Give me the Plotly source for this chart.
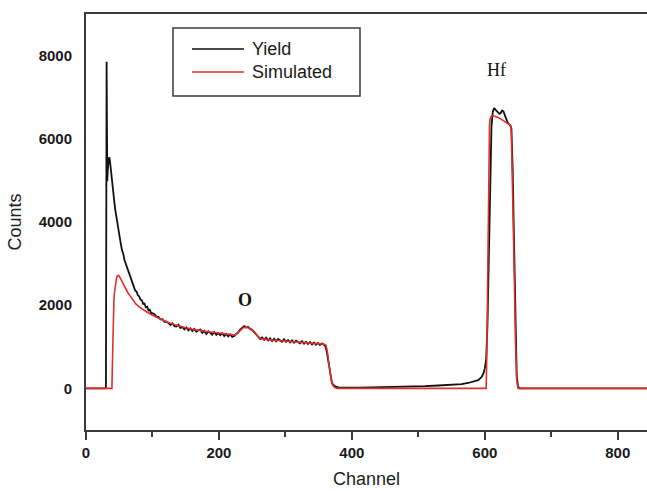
import plotly.graph_objects as go

# Measured spectrum (channel, counts)
yield_channel = [
    0, 30, 31, 32, 33, 34, 35, 36, 37, 38, 39, 40, 41, 42, 43, 44, 45, 46, 47, 48, 49,
    50, 52, 54, 56, 58, 60, 62, 64, 66, 68, 70, 72, 74, 76, 78, 80, 82, 84, 86, 88,
    90, 92, 94, 96, 98, 100, 103, 106, 109, 112, 115, 118, 121, 124, 127, 130, 133,
    136, 139, 142, 145, 148, 151, 154, 157, 160, 163, 166, 169, 172, 175, 178, 181,
    184, 187, 190, 193, 196, 199, 202, 205, 208, 211, 214, 217, 220, 223, 226, 229,
    232, 235, 238, 241, 244, 247, 250, 253, 256, 259, 262, 265, 268, 271, 274, 277,
    280, 283, 286, 289, 292, 295, 298, 301, 304, 307, 310, 313, 316, 319, 322, 325,
    328, 331, 334, 337, 340, 343, 346, 349, 352, 355, 358, 360, 362, 364, 366, 368,
    370, 373, 376, 380, 390, 410, 430, 450, 470, 490, 510, 530, 550, 565, 575, 583,
    590, 595, 598, 600, 602, 604, 606, 608, 610, 612, 614, 616, 618, 620, 622, 624,
    626, 628, 630, 632, 634, 636, 638, 640, 642, 644, 646, 648, 650, 652, 844,
]
yield_counts = [
    0, 0, 7850, 4980, 5300, 5480, 5560, 5470, 5300, 5150, 4980, 4830, 4700, 4540,
    4430, 4300, 4190, 4060, 3950, 3830, 3760, 3660, 3510, 3330, 3240, 3080, 2990,
    2870, 2810, 2690, 2630, 2500, 2460, 2350, 2330, 2240, 2210, 2130, 2120, 2030,
    2040, 1950, 1965, 1875, 1890, 1805, 1810, 1782, 1728, 1722, 1658, 1662, 1600,
    1608, 1570, 1522, 1566, 1498, 1487, 1532, 1452, 1480, 1418, 1465, 1394, 1441,
    1382, 1430, 1361, 1398, 1412, 1336, 1382, 1308, 1371, 1325, 1292, 1357, 1286,
    1332, 1277, 1328, 1260, 1311, 1252, 1299, 1238, 1262, 1305, 1352, 1418, 1448,
    1496, 1462, 1478, 1430, 1408, 1352, 1298, 1231, 1186, 1224, 1166, 1217, 1153,
    1203, 1140, 1196, 1131, 1188, 1145, 1123, 1182, 1117, 1163, 1106, 1156, 1099,
    1147, 1113, 1084, 1137, 1075, 1122, 1066, 1113, 1057, 1104, 1051, 1093, 1043,
    1082, 1050, 1020, 900, 700, 450, 250, 130, 70, 40, 25, 20, 20, 25, 30, 35, 45,
    55, 70, 85, 105, 130, 160, 200, 270, 360, 480, 700, 1500, 3000, 5000, 6300,
    6650, 6740, 6700, 6660, 6640, 6600, 6620, 6680, 6660, 6560, 6480, 6400, 6360,
    6330, 6250, 5200, 3500, 1500, 300, 50, 0, 0,
]

# Simulated spectrum (channel, counts)
sim_channel = [
    0, 39, 40, 41, 42, 43, 44, 45, 46, 47, 48, 49, 50, 52, 54, 56, 58, 60, 63, 66,
    70, 75, 80, 86, 92, 100, 110, 120, 130, 140, 150, 160, 170, 180, 190, 200, 210,
    220, 224, 228, 232, 236, 240, 244, 248, 252, 256, 260, 264, 270, 280, 290, 300,
    310, 320, 330, 340, 350, 358, 361, 363, 365, 367, 369, 371, 374, 378, 602, 603,
    604, 605, 606, 607, 608, 610, 612, 616, 620, 624, 628, 632, 636, 639, 640, 642,
    644, 646, 648, 650, 844,
]
sim_counts = [
    0, 0, 800, 1700, 2100, 2330, 2480, 2580, 2650, 2700, 2720, 2720, 2700, 2650,
    2580, 2510, 2440, 2380, 2300, 2230, 2130, 2030, 1960, 1890, 1830, 1760, 1680,
    1610, 1550, 1500, 1460, 1420, 1390, 1370, 1350, 1330, 1310, 1280, 1280, 1330,
    1400, 1450, 1470, 1460, 1430, 1380, 1300, 1230, 1190, 1175, 1160, 1150, 1140,
    1130, 1115, 1105, 1095, 1080, 1065, 1035, 900, 650, 400, 200, 80, 20, 0, 0, 800,
    2500, 4500, 5800, 6300, 6480, 6550, 6560, 6540, 6510, 6480, 6440, 6400, 6360,
    6320, 6100, 4800, 3000, 1200, 200, 0, 0,
]

x_ticks = [0, 200, 400, 600, 800]
y_ticks = [0, 2000, 4000, 6000, 8000]

# Page geometry (px)
W, H = 647, 491
L, R, T, B = 86, 0, 14, 61
PW, PH = W - L - R, H - T - B


def px_x(px):
    return (px - L) / PW


def px_y(py):
    return (H - B - py) / PH


AXIS = "#3a3a3a"
BLACK = "#111111"
RED = "#e0302c"
SANS = "Liberation Sans, Arial, sans-serif"
SERIF = "Liberation Serif, Times New Roman, serif"

fig = go.Figure()
fig.add_trace(go.Scatter(
    x=yield_channel, y=yield_counts, mode="lines", name="Yield",
    line=dict(color=BLACK, width=1.8), showlegend=False,
))
fig.add_trace(go.Scatter(
    x=sim_channel, y=sim_counts, mode="lines", name="Simulated",
    line=dict(color=RED, width=1.6), showlegend=False,
))

# Legend box
shapes = [
    dict(type="rect", xref="paper", yref="paper",
         x0=px_x(173), x1=px_x(360), y0=px_y(96), y1=px_y(28),
         line=dict(color=AXIS, width=1.5), fillcolor="white", layer="above"),
    dict(type="line", xref="paper", yref="paper",
         x0=px_x(192), x1=px_x(244), y0=px_y(49), y1=px_y(49),
         line=dict(color=BLACK, width=1.6), layer="above"),
    dict(type="line", xref="paper", yref="paper",
         x0=px_x(192), x1=px_x(244), y0=px_y(72), y1=px_y(72),
         line=dict(color=RED, width=1.6), layer="above"),
]
annotations = [
    dict(text="Yield", xref="paper", yref="paper", x=px_x(250), y=px_y(49),
         xanchor="left", yanchor="middle", showarrow=False,
         font=dict(family=SANS, size=18, color="#1a1a1a")),
    dict(text="Simulated", xref="paper", yref="paper", x=px_x(250), y=px_y(72),
         xanchor="left", yanchor="middle", showarrow=False,
         font=dict(family=SANS, size=18, color="#1a1a1a")),
    dict(text="<b>O</b>", x=239, y=2120, xref="x", yref="y", showarrow=False,
         font=dict(family=SERIF, size=18, color="#111111")),
    dict(text="Hf", x=618, y=7650, xref="x", yref="y", showarrow=False,
         font=dict(family=SERIF, size=18, color="#111111")),
]

fig.update_layout(
    width=W, height=H,
    margin=dict(l=L, r=R, t=T, b=B, pad=0),
    paper_bgcolor="white", plot_bgcolor="white",
    shapes=shapes, annotations=annotations,
    showlegend=False,
)
fig.update_xaxes(
    range=[0, 844], tickvals=x_ticks, ticktext=[str(v) for v in x_ticks],
    showgrid=False, zeroline=False,
    showline=True, linecolor=AXIS, linewidth=2, mirror=True,
    ticks="outside", ticklen=8, tickwidth=1.5, tickcolor=AXIS,
    minor=dict(ticks="outside", ticklen=5, tickwidth=1.5, tickcolor=AXIS, dtick=100, tick0=0),
    tickfont=dict(family=SANS, size=15, color="#1a1a1a", weight="bold"),
    title=dict(text="Channel", font=dict(family=SANS, size=18, color="#222222"), standoff=12),
)
fig.update_yaxes(
    range=[-1000, 9000], tickvals=y_ticks, ticktext=[str(v) for v in y_ticks],
    showgrid=False, zeroline=False,
    showline=True, linecolor=AXIS, linewidth=2,
    ticks="", ticklabelstandoff=9,
    tickfont=dict(family=SANS, size=15, color="#1a1a1a", weight="bold"),
    title=dict(text="Counts", font=dict(family=SANS, size=18, color="#222222"), standoff=12),
)

fig.write_html("out.html")
